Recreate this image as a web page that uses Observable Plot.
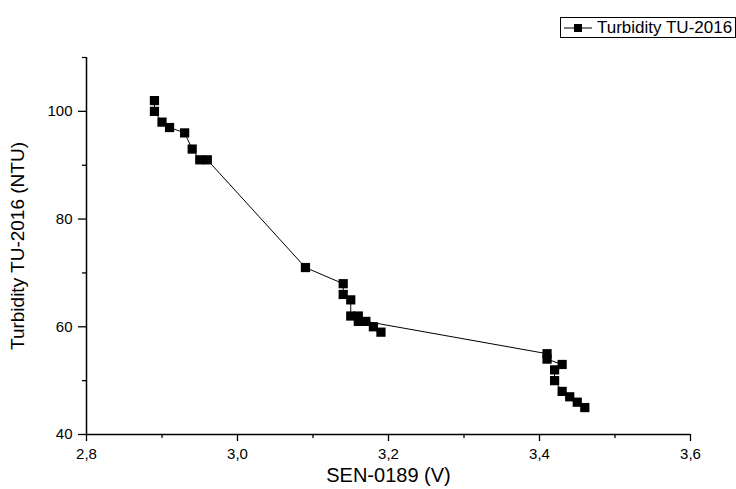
<!DOCTYPE html>
<html>
<head>
<meta charset="utf-8">
<script src="https://cdn.jsdelivr.net/npm/d3@7"></script>
<script src="https://cdn.jsdelivr.net/npm/@observablehq/plot@0.6"></script>
<style>
  html, body { margin: 0; padding: 0; background: #fff; }
  #wrap { position: relative; width: 736px; height: 489px; font-family: "Liberation Sans", Arial, sans-serif; }
  #legend { position: absolute; left: 560px; top: 17px; width: 174px; height: 19px; border: 1px solid #000;
            display: flex; align-items: center; font-size: 17px; color: #000; background: #fff; }
  #legend svg { margin-left: 2px; margin-right: 4px; }
</style>
</head>
<body>
<div id="wrap"><div id="legend"><svg width="30" height="12"><line x1="1" x2="29" y1="6" y2="6" stroke="#000" stroke-width="1"/><rect x="11" y="2" width="8" height="8" fill="#000"/></svg><span>Turbidity TU-2016</span></div></div>
<script>
// Series values, in the order they are connected by the line
const voltage = [2.89, 2.89, 2.90, 2.91, 2.93, 2.94, 2.95, 2.96, 3.09, 3.14, 3.14, 3.15, 3.15, 3.16, 3.16, 3.18, 3.19, 3.17, 3.41, 3.41, 3.43, 3.42, 3.42, 3.43, 3.44, 3.45, 3.46];
const turbidity = [102, 100, 98, 97, 96, 93, 91, 91, 71, 68, 66, 65, 62, 62, 61, 60, 59, 61, 55, 54, 53, 52, 50, 48, 47, 46, 45];

const xMajorTicks = [2.8, 3.0, 3.2, 3.4, 3.6];
const xMinorTicks = [2.9, 3.1, 3.3, 3.5];
const yMajorTicks = [40, 60, 80, 100];
const yMinorTicks = [50, 70, 90, 110];

const xLabel = "SEN-0189 (V)";
const yLabel = "Turbidity TU-2016 (NTU)";

const data = voltage.map((v, i) => ({v, t: turbidity[i]}));
const comma = d => d.toFixed(1).replace(".", ",");

const chart = Plot.plot({
  width: 736,
  height: 489,
  marginLeft: 86,
  marginRight: 46,
  marginTop: 57,
  marginBottom: 55,
  style: {fontFamily: "'Liberation Sans', Arial, sans-serif", color: "#000", background: "#fff"},
  x: {domain: [2.8, 3.6]},
  y: {domain: [40, 110]},
  marks: [
    Plot.axisX(xMajorTicks, {tickSize: 7, tickPadding: 7, tickFormat: comma, fontSize: 15, strokeWidth: 1.3,
      label: xLabel, labelArrow: "none", labelAnchor: "center", labelOffset: 47}),
    Plot.axisX(xMinorTicks, {tickSize: 4, text: null, strokeWidth: 1.3, label: null}),
    Plot.axisY(yMajorTicks, {tickSize: 8, tickPadding: 6, fontSize: 15, strokeWidth: 1.3,
      label: yLabel, labelArrow: "none", labelAnchor: "center", labelOffset: 76}),
    Plot.axisY(yMinorTicks, {tickSize: 4, text: null, strokeWidth: 1.3, label: null}),
    Plot.ruleY([40], {stroke: "#000", strokeWidth: 1.5}),
    Plot.ruleX([2.8], {stroke: "#000", strokeWidth: 1.5}),
    Plot.line(data, {x: "v", y: "t", stroke: "#000", strokeWidth: 1}),
    Plot.dot(data, {x: "v", y: "t", symbol: "square", r: 5.2, fill: "#000", stroke: null})
  ]
});
chart.querySelectorAll("[aria-label='x-axis label'] text, [aria-label='x-axis label']").forEach(e => e.setAttribute("font-size", 20));
chart.querySelectorAll("[aria-label='y-axis label'] text, [aria-label='y-axis label']").forEach(e => e.setAttribute("font-size", 19));
chart.querySelectorAll("[aria-label$='axis label'] text").forEach(e => {
  e.textContent = e.textContent.replace(/\s*[→←↑↓]\s*/g, "").trim();
});
document.getElementById("wrap").prepend(chart);
</script>
</body>
</html>
